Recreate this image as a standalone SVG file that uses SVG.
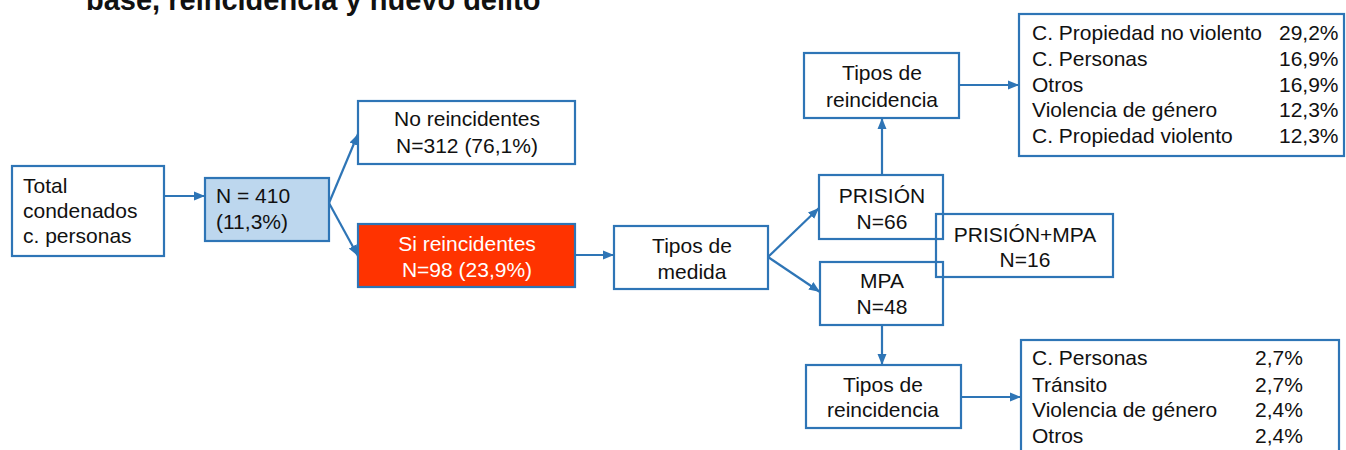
<svg xmlns="http://www.w3.org/2000/svg" width="1346" height="450" viewBox="0 0 1346 450">
<style>
text{font-family:"Liberation Sans",Arial,sans-serif;font-size:21px;fill:#111}
.box{fill:#fff;stroke:#2E75B6;stroke-width:2.2}
.c{text-anchor:middle}
.con line{stroke:#2E75B6;stroke-width:2.2;fill:none}
</style>
<defs>
<marker id="ah" markerUnits="userSpaceOnUse" markerWidth="12" markerHeight="12" viewBox="0 0 12 12" refX="11" refY="6" orient="auto">
<path d="M0,1.5 L11,6 L0,10.5 Z" fill="#2E75B6"/>
</marker>
</defs>
<rect width="1346" height="450" fill="#fff"/>
<text x="86" y="10" style="font-weight:bold;font-size:29px">base, reincidencia y nuevo delito</text>

<g class="con">
<line x1="164" y1="196" x2="205" y2="196" marker-end="url(#ah)"/>
<line x1="329" y1="203" x2="358" y2="134" marker-end="url(#ah)"/>
<line x1="329" y1="203" x2="358" y2="256" marker-end="url(#ah)"/>
<line x1="575" y1="255" x2="614" y2="255" marker-end="url(#ah)"/>
<line x1="768" y1="257" x2="819" y2="208" marker-end="url(#ah)"/>
<line x1="768" y1="257" x2="820" y2="292" marker-end="url(#ah)"/>
<line x1="882" y1="175" x2="882" y2="118" marker-end="url(#ah)"/>
<line x1="959" y1="85" x2="1019" y2="85" marker-end="url(#ah)"/>
<line x1="882" y1="325" x2="882" y2="365" marker-end="url(#ah)"/>
<line x1="961" y1="397" x2="1021" y2="397" marker-end="url(#ah)"/>
</g>

<g id="total">
<rect class="box" x="12" y="166" width="152" height="90"/>
<text x="23" y="193">Total</text>
<text x="23" y="218">condenados</text>
<text x="23" y="243">c. personas</text>
</g>

<g id="n410">
<rect class="box" x="205" y="178" width="124" height="63" style="fill:#BDD7EE"/>
<text x="216" y="203">N = 410</text>
<text x="216" y="229">(11,3%)</text>
</g>

<g id="no-reincidentes">
<rect class="box" x="358" y="101" width="217" height="63"/>
<text class="c" x="467" y="126">No reincidentes</text>
<text class="c" x="467" y="153">N=312 (76,1%)</text>
</g>

<g id="si-reincidentes">
<rect class="box" x="358" y="224" width="217" height="63" style="fill:#FF3300"/>
<text class="c" x="467" y="251" style="fill:#fff">Si reincidentes</text>
<text class="c" x="467" y="277" style="fill:#fff">N=98 (23,9%)</text>
</g>

<g id="tipos-medida">
<rect class="box" x="614" y="226" width="154" height="63"/>
<text class="c" x="692" y="253">Tipos de</text>
<text class="c" x="692" y="279">medida</text>
</g>

<g id="prision">
<rect class="box" x="819" y="175" width="124" height="64"/>
<text class="c" x="882" y="203">PRISIÓN</text>
<text class="c" x="882" y="229">N=66</text>
</g>

<g id="mpa">
<rect class="box" x="820" y="262" width="123" height="63"/>
<text class="c" x="882" y="288">MPA</text>
<text class="c" x="882" y="314">N=48</text>
</g>

<g id="prision-mpa">
<rect class="box" x="936" y="214" width="177" height="63" style="fill:none"/>
<text class="c" x="1025" y="242">PRISIÓN+MPA</text>
<text class="c" x="1025" y="267">N=16</text>
</g>

<g id="tipos-reinc-top">
<rect class="box" x="804" y="53" width="155" height="65"/>
<text class="c" x="882" y="80">Tipos de</text>
<text class="c" x="882" y="107">reincidencia</text>
</g>

<g id="tipos-reinc-bottom">
<rect class="box" x="806" y="365" width="155" height="63"/>
<text class="c" x="883" y="392">Tipos de</text>
<text class="c" x="883" y="417">reincidencia</text>
</g>

<g id="tabla-prision">
<rect class="box" x="1019" y="14" width="325" height="142"/>
<text x="1032" y="40">C. Propiedad no violento</text><text x="1279" y="40">29,2%</text>
<text x="1032" y="66">C. Personas</text><text x="1279" y="66">16,9%</text>
<text x="1032" y="92">Otros</text><text x="1279" y="92">16,9%</text>
<text x="1032" y="117">Violencia de género</text><text x="1279" y="117">12,3%</text>
<text x="1032" y="143">C. Propiedad violento</text><text x="1279" y="143">12,3%</text>
</g>

<g id="tabla-mpa">
<rect class="box" x="1021" y="340" width="318" height="120"/>
<text x="1032" y="365">C. Personas</text><text x="1255" y="365">2,7%</text>
<text x="1032" y="392">Tránsito</text><text x="1255" y="392">2,7%</text>
<text x="1032" y="417">Violencia de género</text><text x="1255" y="417">2,4%</text>
<text x="1032" y="443">Otros</text><text x="1255" y="443">2,4%</text>
</g>
</svg>
